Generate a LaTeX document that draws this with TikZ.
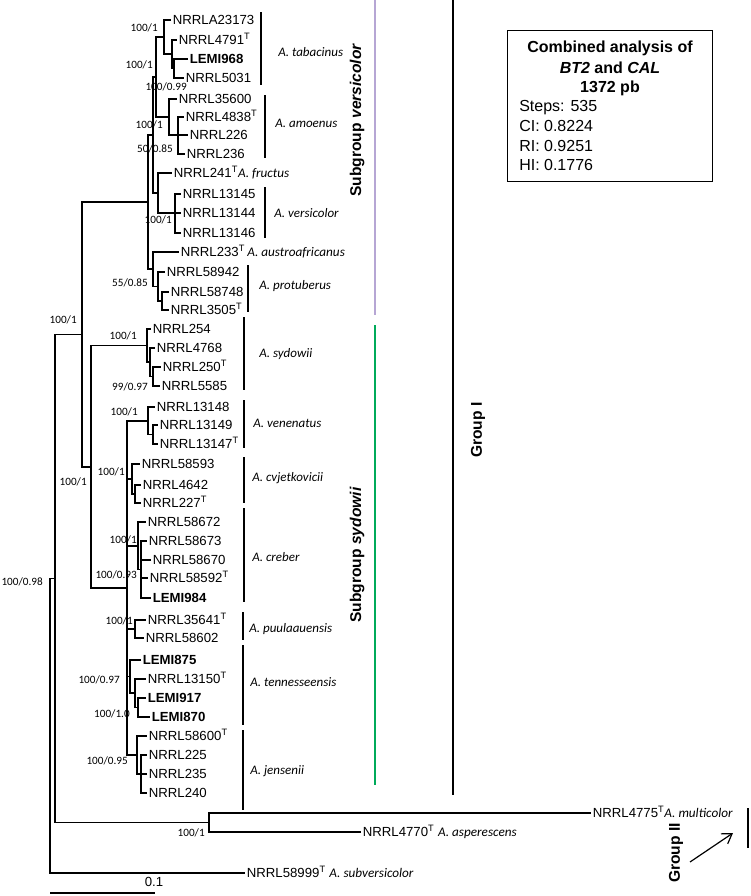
\documentclass[tikz,border=0pt]{standalone}
\usepackage{fontspec}
\setmainfont{Liberation Sans}
\newfontfamily\spf{Carlito}
\usetikzlibrary{arrows.meta}
\definecolor{lav}{RGB}{182,166,212}
\definecolor{grn}{RGB}{0,170,90}
\begin{document}
\begin{tikzpicture}[x=0.75pt,y=-0.75pt,
 leaf/.style={anchor=west,inner xsep=1.2pt,inner ysep=0pt,text height=7.1pt,text depth=0pt,font=\fontsize{9.9}{11}\selectfont},
 bleaf/.style={leaf,font=\fontsize{9.9}{11}\selectfont\bfseries},
 spn/.style={anchor=west,inner sep=0pt,text height=6.3pt,text depth=0pt,font=\spf\fontsize{9.75}{11}\selectfont\itshape},
 bs/.style={anchor=east,inner sep=0pt,text height=5.5pt,text depth=0pt,font=\spf\fontsize{8.4}{10}\selectfont},
 br/.style={line width=1.1pt},
 bar/.style={line width=2pt},
 grp/.style={rotate=90,inner sep=0pt,font=\fontsize{11.7}{13}\selectfont\bfseries},
 boxt/.style={inner sep=0pt,text height=8.6pt,text depth=0pt,font=\fontsize{12}{14}\selectfont},
]
\useasboundingbox[fill=white] (0,0) rectangle (750,896);
% leaves
\node[leaf] (L1) at (171,20) {NRRLA23173};
\node[leaf] (L2) at (177,40) {NRRL4791\textsuperscript{T}};
\node[bleaf] (L3) at (188,59) {LEMI968};
\node[leaf] (L4) at (184,78) {NRRL5031};
\node[leaf] (L5) at (177,99) {NRRL35600};
\node[leaf] (L6) at (184,117) {NRRL4838\textsuperscript{T}};
\node[leaf] (L7) at (188,135) {NRRL226};
\node[leaf] (L8) at (185,154) {NRRL236};
\node[leaf] (L9) at (172,173) {NRRL241\textsuperscript{T}{\spf\itshape A. fructus}};
\node[leaf] (L10) at (181,194) {NRRL13145};
\node[leaf] (L11) at (181,213) {NRRL13144};
\node[leaf] (L12) at (181,233) {NRRL13146};
\node[leaf] (L13) at (179,252) {NRRL233\textsuperscript{T}\,{\spf\itshape A. austroafricanus}};
\node[leaf] (L14) at (165,272) {NRRL58942};
\node[leaf] (L15) at (169,292) {NRRL58748};
\node[leaf] (L16) at (169,310) {NRRL3505\textsuperscript{T}};
\node[leaf] (L17) at (151,329) {NRRL254};
\node[leaf] (L18) at (155,348) {NRRL4768};
\node[leaf] (L19) at (161,367) {NRRL250\textsuperscript{T}};
\node[leaf] (L20) at (160,386) {NRRL5585};
\node[leaf] (L21) at (155,407) {NRRL13148};
\node[leaf] (L22) at (158,425) {NRRL13149};
\node[leaf] (L23) at (158,444) {NRRL13147\textsuperscript{T}};
\node[leaf] (L24) at (140,464) {NRRL58593};
\node[leaf] (L25) at (141,485) {NRRL4642};
\node[leaf] (L26) at (141,503) {NRRL227\textsuperscript{T}};
\node[leaf] (L27) at (146,522) {NRRL58672};
\node[leaf] (L28) at (147,541) {NRRL58673};
\node[leaf] (L29) at (151,560) {NRRL58670};
\node[leaf] (L30) at (148,578) {NRRL58592\textsuperscript{T}};
\node[bleaf] (L31) at (151,598) {LEMI984};
\node[leaf] (L32) at (146,620) {NRRL35641\textsuperscript{T}};
\node[leaf] (L33) at (144,638) {NRRL58602};
\node[bleaf] (L34) at (141,660) {LEMI875};
\node[leaf] (L35) at (146,679) {NRRL13150\textsuperscript{T}};
\node[bleaf] (L36) at (146,698) {LEMI917};
\node[bleaf] (L37) at (150,717) {LEMI870};
\node[leaf] (L38) at (147,736) {NRRL58600\textsuperscript{T}};
\node[leaf] (L39) at (147,755) {NRRL225};
\node[leaf] (L40) at (147,774) {NRRL235};
\node[leaf] (L41) at (147,793) {NRRL240};
\node[leaf] (L42) at (591,813) {NRRL4775\textsuperscript{T}{\spf\itshape A. multicolor}};
\node[leaf] (L43) at (361,832) {NRRL4770\textsuperscript{T} {\spf\itshape A. asperescens}};
\node[leaf] (L44) at (245,873) {NRRL58999\textsuperscript{T} {\spf\itshape A. subversicolor}};
% internal nodes
\coordinate (T3) at (174,68.5);
\coordinate (T2) at (172,54);
\coordinate (T1) at (164,37);
\coordinate (A2) at (178,135);
\coordinate (A1) at (169,117);
\coordinate (TA) at (156,77);
\coordinate (VS) at (175,213);
\coordinate (F) at (158,193);
\coordinate (V1) at (153,135);
\coordinate (P2) at (162,301);
\coordinate (P1) at (158,286.5);
\coordinate (AP) at (153,269);
\coordinate (V0) at (148,202);
\coordinate (S3) at (153,376.5);
\coordinate (S2) at (150,362);
\coordinate (S1) at (147,345.5);
\coordinate (VN2) at (153,434.5);
\coordinate (VN1) at (148,421);
\coordinate (K2) at (135,494);
\coordinate (K1) at (132,479);
\coordinate (CR2) at (141,569.5);
\coordinate (CR1) at (138,546);
\coordinate (PU) at (135,629);
\coordinate (TN3) at (138,707.5);
\coordinate (TN2) at (135,693);
\coordinate (TN1) at (130,676.5);
\coordinate (J2) at (141,774);
\coordinate (J1) at (137,755);
\coordinate (C) at (127,588);
\coordinate (SS) at (91,467);
\coordinate (G1) at (82,334.5);
\coordinate (O) at (209,822.5);
\coordinate (R) at (55,578.5);
\coordinate (R0) at (50,725.5);
% branches to leaves
\foreach \p/\c in {T3/L3,T3/L4,T2/L2,T1/L1,A2/L6,A2/L7,A2/L8,A1/L5,VS/L10,VS/L11,VS/L12,F/L9,
 P2/L15,P2/L16,P1/L14,AP/L13,S3/L19,S3/L20,S2/L18,S1/L17,VN2/L22,VN2/L23,VN1/L21,
 K2/L25,K2/L26,K1/L24,CR2/L28,CR2/L29,CR2/L30,CR2/L31,CR1/L27,PU/L32,PU/L33,
 TN3/L36,TN3/L37,TN2/L35,TN1/L34,J2/L39,J2/L40,J2/L41,J1/L38,O/L42,O/L43,R0/L44}
 \draw[br] (\p) |- (\c.west);
% branches between internal nodes
\foreach \p/\c in {T2/T3,T1/T2,A1/A2,TA/T1,TA/A1,F/VS,V1/TA,V1/F,P1/P2,AP/P1,V0/V1,V0/AP,
 S2/S3,S1/S2,VN1/VN2,K1/K2,CR1/CR2,TN2/TN3,TN1/TN2,J1/J2,
 C/VN1,C/K1,C/CR1,C/PU,C/TN1,C/J1,SS/S1,SS/C,G1/V0,G1/SS,R/G1,R/O,R0/R}
 \draw[br] (\p) |- (\c);
% support values
\node[bs] (s1) at (158,28) {100/1};
\node[bs] (s2) at (153,65) {100/1};
\node[bs] (s3) at (187,87) {100/0.99};
\node[bs] (s4) at (163,125) {100/1};
\node[bs] (s5) at (173,149) {50/0.85};
\node[bs] (s6) at (172,220) {100/1};
\node[bs] (s7) at (148,283) {55/0.85};
\node[bs] (s8) at (77,320) {100/1};
\node[bs] (s9) at (137,336) {100/1};
\node[bs] (s10) at (148,387) {99/0.97};
\node[bs] (s11) at (138,412) {100/1};
\node[bs] (s12) at (125,472) {100/1};
\node[bs] (s13) at (87,482) {100/1};
\node[bs] (s14) at (137,540) {100/1};
\node[bs] (s15) at (137,575) {100/0.93};
\node[bs] (s16) at (43,582) {100/0.98};
\node[bs] (s17) at (133,621) {100/1};
\node[bs] (s18) at (120,680) {100/0.97};
\node[bs] (s19) at (130,714) {100/1.0};
\node[bs] (s20) at (128,761) {100/0.95};
\node[bs] (s21) at (205,833) {100/1};
% species bars and names
\draw[bar] (261,12) -- (261,85);
\node[spn] (n1) at (278,52) {A. tabacinus};
\draw[bar] (265,95) -- (265,158);
\node[spn] (n2) at (275,123) {A. amoenus};
\draw[bar] (265,187) -- (265,238);
\node[spn] (n3) at (274,213) {A. versicolor};
\draw[bar] (248,265) -- (248,312);
\node[spn] (n4) at (259,285) {A. protuberus};
\draw[bar] (244,317) -- (244,390);
\node[spn] (n5) at (259,353) {A. sydowii};
\draw[bar] (244,400) -- (244,448);
\node[spn] (n6) at (253,423) {A. venenatus};
\draw[bar] (244,457) -- (244,503);
\node[spn] (n7) at (252,477) {A. cvjetkovicii};
\draw[bar] (244,508) -- (244,602);
\node[spn] (n8) at (252,557) {A. creber};
\draw[bar] (243,612) -- (243,640);
\node[spn] (n9) at (249,628) {A. puulaauensis};
\draw[bar] (243,645) -- (243,725);
\node[spn] (n10) at (250,682) {A. tennesseensis};
\draw[bar] (243,730) -- (243,810);
\node[spn] (n11) at (250,770) {A. jensenii};
% groups
\draw[lav,line width=1.6pt] (375,0) -- (375,315);
\draw[grn,line width=1.6pt] (375,325) -- (375,785);
\node[grp] (g1) at (357,120) {Subgroup \textit{versicolor}};
\node[grp] (g2) at (357,555) {Subgroup \textit{sydowii}};
\draw[bar] (453,0) -- (453,795);
\node[grp] (g3) at (478,430) {Group I};
\node[grp] (g4) at (676,853) {Group II};
\draw[bar] (748,808) -- (748,848);
\coordinate (ar1) at (690,862);
\coordinate (ar2) at (733,833);
\draw[line width=0.9pt,-{Straight Barb[length=7pt,width=9pt]}] (ar1) -- (ar2);
% box
\node[draw,line width=1.1pt,inner sep=0pt,minimum width=153.75pt,minimum height=113.25pt,anchor=north west] (box) at (507,30) {};
\node[boxt,font=\fontsize{12}{14}\selectfont\bfseries] (b1) at (610,47) {Combined analysis of};
\node[boxt,font=\fontsize{12}{14}\selectfont\bfseries] (b2) at (610,68) {\textit{BT2} and \textit{CAL}};
\node[boxt,font=\fontsize{12}{14}\selectfont\bfseries] (b3) at (610,87) {1372 pb};
\node[boxt,anchor=west] (b4) at (519,106) {Steps: 535};
\node[boxt,anchor=west] (b5) at (519,126) {CI: 0.8224};
\node[boxt,anchor=west] (b6) at (519,146) {RI: 0.9251};
\node[boxt,anchor=west] (b7) at (519,165) {HI: 0.1776};
% scale bar
\coordinate (sb1) at (50,893);
\coordinate (sb2) at (155,893);
\draw[br] (sb1) -- (sb2);
\node[inner sep=0pt,text height=7.1pt,text depth=0pt,font=\fontsize{9.9}{11}\selectfont] (sbl) at (154,882) {0.1};
\end{tikzpicture}
\end{document}
